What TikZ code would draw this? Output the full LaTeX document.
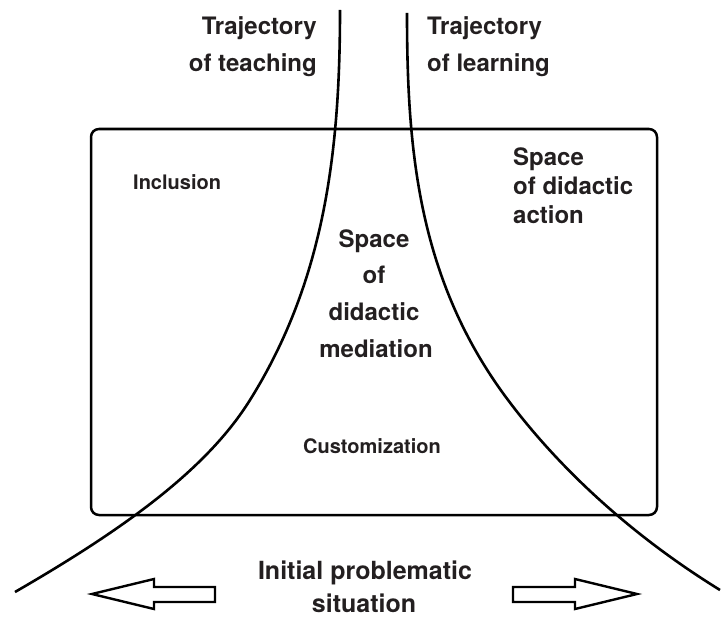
\documentclass[tikz,border=0pt]{standalone}
\usepackage{fontspec}
\setmainfont{TeX Gyre Heros}
\definecolor{ink}{HTML}{231F20}
\tikzset{
  lbl/.style={anchor=base, inner sep=0pt, text=ink, font=\bfseries\fontsize{24}{28}\selectfont},
  small/.style={anchor=base west, inner sep=0pt, text=ink, font=\bfseries\fontsize{20}{24}\selectfont},
  bigl/.style={anchor=base, inner sep=0pt, text=ink, font=\bfseries\fontsize{25}{30}\selectfont},
  traj/.style={line width=2.6pt, black},
  fatarrow/.style={line width=2.4pt, black, line join=miter, fill=white},
}
\begin{document}
\begin{tikzpicture}[x=1pt,y=-1pt]
\useasboundingbox (0,0) rectangle (721,618);
% box
\draw[line width=2.5pt, rounded corners=8pt] (91,129) rectangle (657,515);
% trajectories
\coordinate (lt) at (340,10);
\coordinate (lm) at (250,400);
\coordinate (le) at (15,592);
\coordinate (rt) at (407,13);
\coordinate (rm) at (508,400);
\coordinate (re) at (720,590);
\draw[traj] (lt) .. controls (340,150) and (325,280) .. (lm)
                 .. controls (207.6,468) and (127.6,527) .. (le);
\draw[traj] (rt) .. controls (407,150) and (418,280) .. (rm)
                 .. controls (550,456) and (618,527) .. (re);
% arrows
\draw[fatarrow] (92,594) -- (154,579) -- (154,587) -- (215,587) -- (215,602) -- (154,602) -- (154,609) -- cycle;
\draw[fatarrow] (637,594) -- (575,579) -- (575,587) -- (513,587) -- (513,602) -- (575,602) -- (575,609) -- cycle;
% texts
\node[lbl, anchor=base east] (t1) at (317,35) {Trajectory};
\node[lbl, anchor=base east] (t2) at (317,72) {of teaching};
\node[lbl, anchor=base west] (l1) at (427,35) {Trajectory};
\node[lbl, anchor=base west] (l2) at (427,72) {of learning};
\node[lbl, anchor=base west] (a1) at (513,165) {Space};
\node[lbl, anchor=base west] (a2) at (513,194) {of didactic};
\node[lbl, anchor=base west] (a3) at (513,223) {action};
\node[lbl] (m1) at (374,247) {Space};
\node[lbl] (m2) at (374,283) {of};
\node[lbl] (m3) at (374,320) {didactic};
\node[lbl] (m4) at (376,357) {mediation};
\node[small] (inc) at (133,189) {Inclusion};
\node[small] (cus) at (303,453) {Customization};
\node[bigl] (i1) at (365,579) {Initial problematic};
\node[bigl] (i2) at (364,612) {situation};
\end{tikzpicture}
\end{document}
